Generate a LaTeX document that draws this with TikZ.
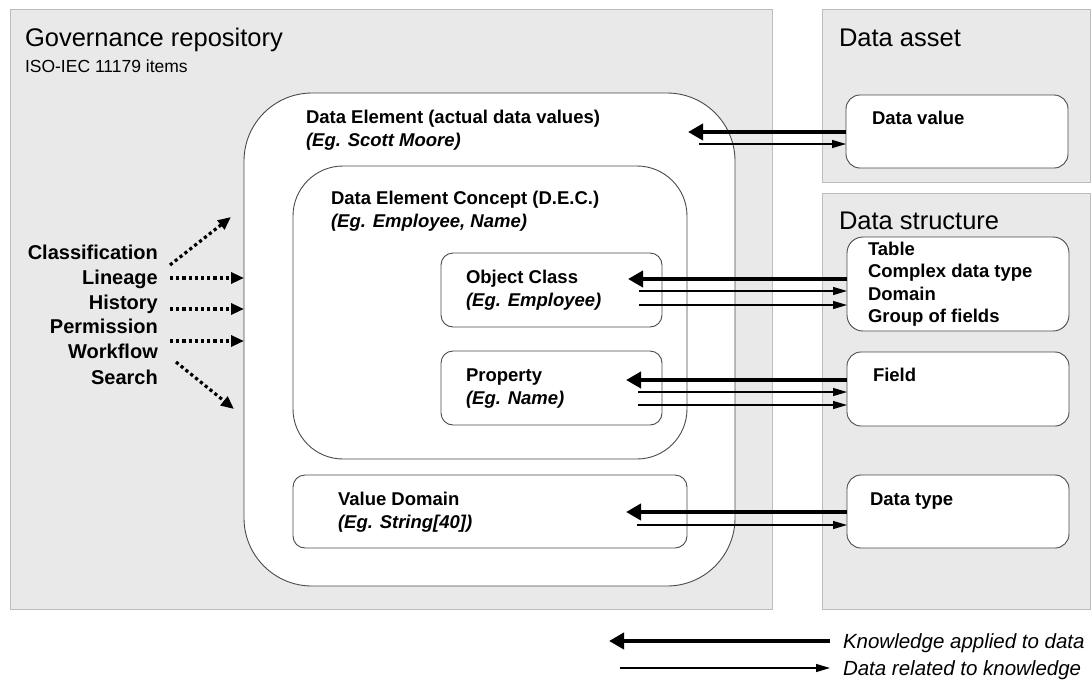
\documentclass[tikz,border=0pt]{standalone}
\usepackage{fontspec}
\setmainfont{Liberation Sans}
\usetikzlibrary{arrows.meta}
\definecolor{greyfill}{HTML}{E9E9E9}
\definecolor{greyline}{HTML}{BDBDBD}
\definecolor{boxline}{HTML}{4A4A4A}
\begin{document}
\begin{tikzpicture}[x=1pt,y=-1pt,
  panel/.style={draw=greyline, fill=greyfill, line width=1pt, anchor=north west, inner sep=0pt, outer sep=0pt},
  rbox/.style={draw=boxline, fill=white, line width=0.9pt, anchor=north west, inner sep=0pt, outer sep=0pt},
  txt/.style={anchor=base west, inner sep=0pt, outer sep=0pt},
  title/.style={txt, font=\fontsize{25.5}{29}\selectfont},
  sub/.style={txt, font=\fontsize{17.5}{21}\selectfont},
  lbl/.style={txt, font=\bfseries\fontsize{18.5}{22}\selectfont},
  eg/.style={txt, font=\bfseries\itshape\fontsize{18.5}{22}\selectfont},
  side/.style={anchor=base east, inner sep=0pt, font=\bfseries\fontsize{20}{24}\selectfont},
  legtxt/.style={txt, font=\itshape\fontsize{20.5}{24}\selectfont},
  know/.style={line width=4.5pt, -{Triangle[length=15pt,width=16pt]}},
  rel/.style={line width=1.2pt, -{Triangle[length=14pt,width=8pt]}},
  dots/.style={line width=3.2pt, dash pattern=on 3.2pt off 3pt, -{Triangle[length=13pt,width=11pt]}}
]
\useasboundingbox (0,0) rectangle (1092,694);
\fill[white] (0,0) rectangle (1092,694);

% grey panels
\node[panel, minimum width=762pt, minimum height=600pt] (gov) at (10,9) {};
\node[panel, minimum width=268pt, minimum height=173pt] (asset) at (822,9) {};
\node[panel, minimum width=268pt, minimum height=416pt] (struct) at (822,193) {};

\node[title] (govt) at (25,46) {Governance repository};
\node[sub] (govs) at (25,72) {ISO-IEC 11179 items};
\node[title] (assett) at (839,46) {Data asset};
\node[title] (structt) at (839,229) {Data structure};

% governance boxes
\node[rbox, rounded corners=68pt, minimum width=491pt, minimum height=493pt] (de) at (244,93) {};
\node[rbox, rounded corners=50pt, minimum width=394pt, minimum height=293pt] (dec) at (293,166) {};
\node[rbox, rounded corners=12pt, minimum width=221pt, minimum height=74pt] (oc) at (441,253) {};
\node[rbox, rounded corners=12pt, minimum width=221pt, minimum height=74pt] (prop) at (441,351) {};
\node[rbox, rounded corners=12pt, minimum width=394pt, minimum height=73pt] (vd) at (293,475) {};

\node[lbl] (det) at (306,123) {Data Element (actual data values)};
\node[eg] (deeg) at (306,146) {(Eg. Scott Moore)};
\node[lbl] (dect) at (331,204) {Data Element Concept (D.E.C.)};
\node[eg] (deceg) at (331,227) {(Eg. Employee, Name)};
\node[lbl] (oct) at (466,283) {Object Class};
\node[eg] (oceg) at (466,306) {(Eg. Employee)};
\node[lbl] (propt) at (466,381) {Property};
\node[eg] (propeg) at (466,404) {(Eg. Name)};
\node[lbl] (vdt) at (338,505) {Value Domain};
\node[eg] (vdeg) at (338,528) {(Eg. String[40])};

% data boxes
\node[rbox, rounded corners=14pt, minimum width=222pt, minimum height=73pt] (dv) at (846,95) {};
\node[rbox, rounded corners=16pt, minimum width=222pt, minimum height=94pt] (tbl) at (847,237) {};
\node[rbox, rounded corners=14pt, minimum width=222pt, minimum height=74pt] (fld) at (847,352) {};
\node[rbox, rounded corners=14pt, minimum width=222pt, minimum height=73pt] (dt) at (847,475) {};

\node[lbl] (dvt) at (872,124) {Data value};
\node[lbl] (tb1) at (868,255) {Table};
\node[lbl] (tb2) at (868,277) {Complex data type};
\node[lbl] (tb3) at (868,300) {Domain};
\node[lbl] (tb4) at (868,322) {Group of fields};
\node[lbl] (fldt) at (873,381) {Field};
\node[lbl] (dtt) at (870,505) {Data type};

% side labels
\node[side] (s1) at (158,259) {Classification};
\node[side] (s2) at (158,284) {Lineage};
\node[side] (s3) at (158,309) {History};
\node[side] (s4) at (158,333) {Permission};
\node[side] (s5) at (158,358) {Workflow};
\node[side] (s6) at (158,384) {Search};

\coordinate (d1s) at (170,265); \coordinate (d1e) at (231,217);
\coordinate (d2s) at (170,278);
\coordinate (d3s) at (170,309);
\coordinate (d4s) at (170,341);
\coordinate (d6s) at (176,362); \coordinate (d6e) at (234,409);
\draw[dots] (d1s) -- (d1e);
\draw[dots] (d2s) -- (de.west |- d2s);
\draw[dots] (d3s) -- (de.west |- d3s);
\draw[dots] (d4s) -- (de.west |- d4s);
\draw[dots] (d6s) -- (d6e);

% connectors
\coordinate (k1) at (688,132); \coordinate (r1) at (699,144);
\draw[know] (dv.west |- k1) -- (k1);
\draw[rel] (r1) -- (dv.west |- r1);

\coordinate (k2) at (628,279); \coordinate (r2a) at (639,291); \coordinate (r2b) at (639,305);
\draw[know] (tbl.west |- k2) -- (k2);
\draw[rel] (r2a) -- (tbl.west |- r2a);
\draw[rel] (r2b) -- (tbl.west |- r2b);

\coordinate (k3) at (626,380); \coordinate (r3a) at (638,392); \coordinate (r3b) at (638,405);
\draw[know] (fld.west |- k3) -- (k3);
\draw[rel] (r3a) -- (fld.west |- r3a);
\draw[rel] (r3b) -- (fld.west |- r3b);

\coordinate (k4) at (626,512); \coordinate (r4) at (637,525);
\draw[know] (dt.west |- k4) -- (k4);
\draw[rel] (r4) -- (dt.west |- r4);

% legend
\node[legtxt] (leg1) at (843,648) {Knowledge applied to data};
\node[legtxt] (leg2) at (843,675) {Data related to knowledge};
\coordinate (lk) at (609,641); \coordinate (lr) at (620,668);
\draw[know] ([xshift=-13pt]leg1.west |- lk) -- (lk);
\draw[rel] (lr) -- ([xshift=-13pt]leg2.west |- lr);
\end{tikzpicture}
\end{document}
